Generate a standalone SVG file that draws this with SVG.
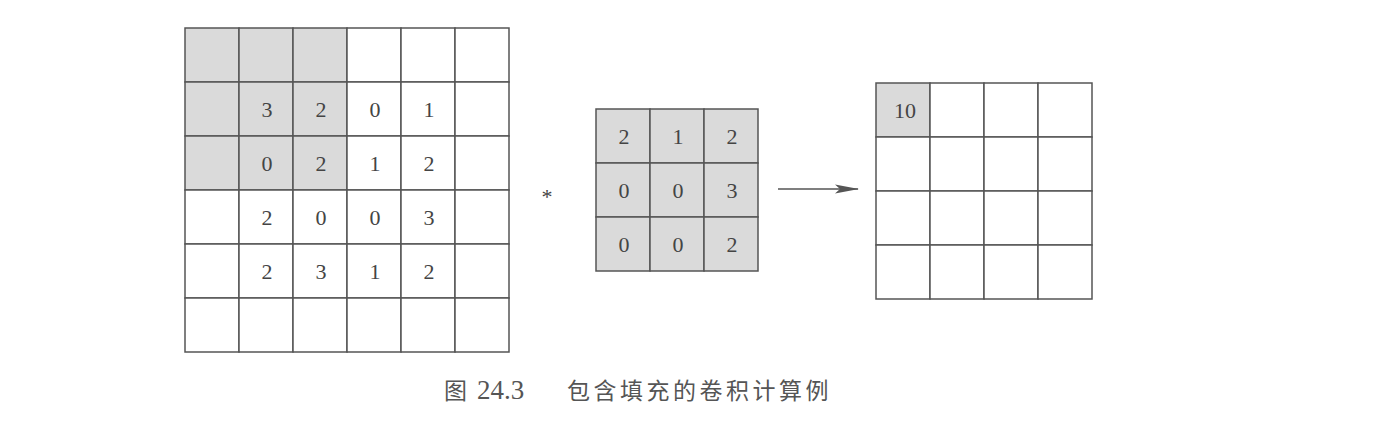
<svg xmlns="http://www.w3.org/2000/svg" width="1394" height="438" viewBox="0 0 1394 438">
<style>
.cell{fill:#ffffff;stroke:#555;stroke-width:1.5}
.sh{fill:#dadada;stroke:#555;stroke-width:1.5}
.num{font-family:"Liberation Serif",serif;font-size:22px;fill:#444;text-anchor:middle;dominant-baseline:central}
.cap{font-family:"Liberation Serif","Noto Sans CJK SC",serif;font-size:23px;fill:#555}
</style>
<defs>
<marker id="ah" markerWidth="24" markerHeight="10" refX="23" refY="5" orient="auto" markerUnits="userSpaceOnUse">
<path d="M0,0.5 L24,5 L0,9.5 L5,5 Z" fill="#555"/>
</marker>
</defs>
<rect width="1394" height="438" fill="#fff"/>
<g id="input">
<g class="sh">
<rect x="185" y="28" width="54" height="54"/><rect x="239" y="28" width="54" height="54"/><rect x="293" y="28" width="54" height="54"/>
<rect x="185" y="82" width="54" height="54"/><rect x="239" y="82" width="54" height="54"/><rect x="293" y="82" width="54" height="54"/>
<rect x="185" y="136" width="54" height="54"/><rect x="239" y="136" width="54" height="54"/><rect x="293" y="136" width="54" height="54"/>
</g>
<g class="cell">
<rect x="347" y="28" width="54" height="54"/><rect x="401" y="28" width="54" height="54"/><rect x="455" y="28" width="54" height="54"/>
<rect x="347" y="82" width="54" height="54"/><rect x="401" y="82" width="54" height="54"/><rect x="455" y="82" width="54" height="54"/>
<rect x="347" y="136" width="54" height="54"/><rect x="401" y="136" width="54" height="54"/><rect x="455" y="136" width="54" height="54"/>
<rect x="185" y="190" width="54" height="54"/><rect x="239" y="190" width="54" height="54"/><rect x="293" y="190" width="54" height="54"/><rect x="347" y="190" width="54" height="54"/><rect x="401" y="190" width="54" height="54"/><rect x="455" y="190" width="54" height="54"/>
<rect x="185" y="244" width="54" height="54"/><rect x="239" y="244" width="54" height="54"/><rect x="293" y="244" width="54" height="54"/><rect x="347" y="244" width="54" height="54"/><rect x="401" y="244" width="54" height="54"/><rect x="455" y="244" width="54" height="54"/>
<rect x="185" y="298" width="54" height="54"/><rect x="239" y="298" width="54" height="54"/><rect x="293" y="298" width="54" height="54"/><rect x="347" y="298" width="54" height="54"/><rect x="401" y="298" width="54" height="54"/><rect x="455" y="298" width="54" height="54"/>
</g>
<g class="num">
<text x="267" y="109">3</text><text x="321" y="109">2</text><text x="375" y="109">0</text><text x="429" y="109">1</text>
<text x="267" y="163">0</text><text x="321" y="163">2</text><text x="375" y="163">1</text><text x="429" y="163">2</text>
<text x="267" y="217">2</text><text x="321" y="217">0</text><text x="375" y="217">0</text><text x="429" y="217">3</text>
<text x="267" y="271">2</text><text x="321" y="271">3</text><text x="375" y="271">1</text><text x="429" y="271">2</text>
</g>
</g>
<g id="star"><text class="num" x="547" y="196">*</text></g>
<g id="kernel">
<g class="sh">
<rect x="596" y="109" width="54" height="54"/><rect x="650" y="109" width="54" height="54"/><rect x="704" y="109" width="54" height="54"/>
<rect x="596" y="163" width="54" height="54"/><rect x="650" y="163" width="54" height="54"/><rect x="704" y="163" width="54" height="54"/>
<rect x="596" y="217" width="54" height="54"/><rect x="650" y="217" width="54" height="54"/><rect x="704" y="217" width="54" height="54"/>
</g>
<g class="num">
<text x="624" y="136">2</text><text x="678" y="136">1</text><text x="732" y="136">2</text>
<text x="624" y="190">0</text><text x="678" y="190">0</text><text x="732" y="190">3</text>
<text x="624" y="244">0</text><text x="678" y="244">0</text><text x="732" y="244">2</text>
</g>
</g>
<g id="connectors">
<line x1="778" y1="189" x2="858" y2="189" stroke="#555" stroke-width="1.5" marker-end="url(#ah)"/>
</g>
<g id="output">
<rect class="sh" x="876" y="83" width="54" height="54"/>
<g class="cell">
<rect x="930" y="83" width="54" height="54"/><rect x="984" y="83" width="54" height="54"/><rect x="1038" y="83" width="54" height="54"/>
<rect x="876" y="137" width="54" height="54"/><rect x="930" y="137" width="54" height="54"/><rect x="984" y="137" width="54" height="54"/><rect x="1038" y="137" width="54" height="54"/>
<rect x="876" y="191" width="54" height="54"/><rect x="930" y="191" width="54" height="54"/><rect x="984" y="191" width="54" height="54"/><rect x="1038" y="191" width="54" height="54"/>
<rect x="876" y="245" width="54" height="54"/><rect x="930" y="245" width="54" height="54"/><rect x="984" y="245" width="54" height="54"/><rect x="1038" y="245" width="54" height="54"/>
</g>
<text class="num" x="905" y="110">10</text>
</g>
<g id="caption">
<text class="cap" x="444" y="399">图</text>
<text class="cap" x="477" y="399" style="font-size:27px">24.3</text>
<text class="cap" x="567" y="399" letter-spacing="3.5">包含填充的卷积计算例</text>
</g>
</svg>
